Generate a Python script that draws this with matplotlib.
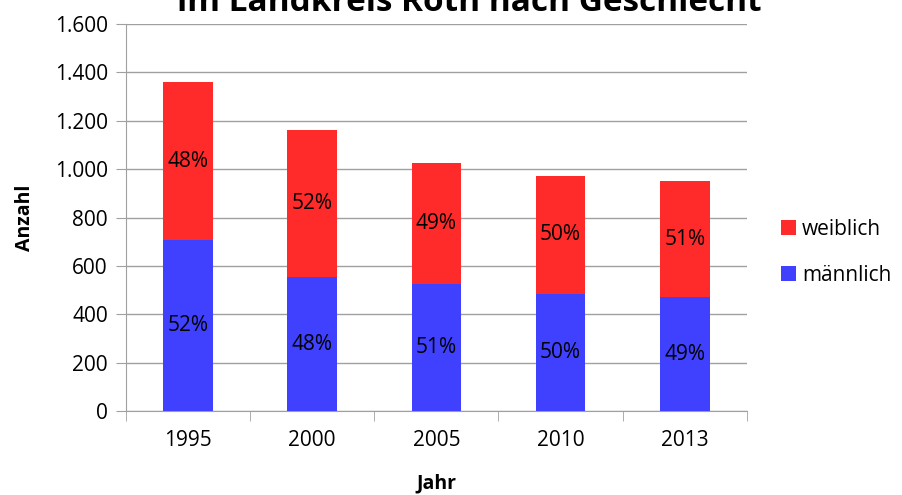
import matplotlib.pyplot as plt
from matplotlib.ticker import FuncFormatter

plt.rcParams['font.family'] = ['Open Sans', 'DejaVu Sans']

jahre = ['1995', '2000', '2005', '2010', '2013']
maennlich = [707, 554, 525, 484, 471]
weiblich = [653, 608, 500, 488, 480]
pct_m = ['52%', '48%', '51%', '50%', '49%']
pct_w = ['48%', '52%', '49%', '50%', '51%']

rot = '#ff2a2a'
blau = '#4040ff'
grau = '#a0a0a0'

fig = plt.figure(figsize=(9.03, 4.95), dpi=100)
ax = fig.add_axes([0.1395, 0.1697, 0.6875, 0.7818])

x = range(len(jahre))
b_m = ax.bar(x, maennlich, width=0.4, color=blau, label='männlich', zorder=3)
b_w = ax.bar(x, weiblich, width=0.4, bottom=maennlich, color=rot, label='weiblich', zorder=3)

for i in x:
    ax.text(i, maennlich[i] / 2, pct_m[i], ha='center', va='center', fontsize=15, zorder=4)
    ax.text(i, maennlich[i] + weiblich[i] / 2, pct_w[i], ha='center', va='center', fontsize=15, zorder=4)

ax.set_xlim(-0.5, len(jahre) - 0.5)
ax.set_ylim(0, 1600)
ax.set_yticks(range(0, 1601, 200))
ax.yaxis.set_major_formatter(FuncFormatter(lambda v, p: f'{int(v):,}'.replace(',', '.')))
ax.set_xticks(list(x))
ax.set_xticklabels(jahre)
ax.set_xticks([i - 0.5 for i in range(len(jahre) + 1)], minor=True)
ax.tick_params(axis='x', which='major', length=0, pad=14, labelsize=15)
ax.tick_params(axis='x', which='minor', length=7, color=grau, direction='out')
ax.tick_params(axis='y', length=7, color=grau, direction='out', labelsize=15, pad=6)

ax.grid(axis='y', color=grau, linewidth=1, zorder=0)
for s in ['top', 'right']:
    ax.spines[s].set_visible(False)
ax.spines['left'].set_color(grau)
ax.spines['bottom'].set_color(grau)

ax.set_xlabel('Jahr', fontsize=14, fontweight='bold', labelpad=16)
ax.set_ylabel('Anzahl', fontsize=14, fontweight='bold', labelpad=14)

fig.text(0.52, 0.995, 'im Landkreis Roth nach Geschlecht', ha='center', va='center',
         fontsize=24, fontweight='bold')

handles = [b_w, b_m]
ax.legend(handles, ['weiblich', 'männlich'], loc='center left', bbox_to_anchor=(1.025, 0.41),
          frameon=False, fontsize=15, handlelength=0.7, handleheight=0.7,
          handletextpad=0.3, labelspacing=1.2)

fig.savefig('out.png', dpi=100)
